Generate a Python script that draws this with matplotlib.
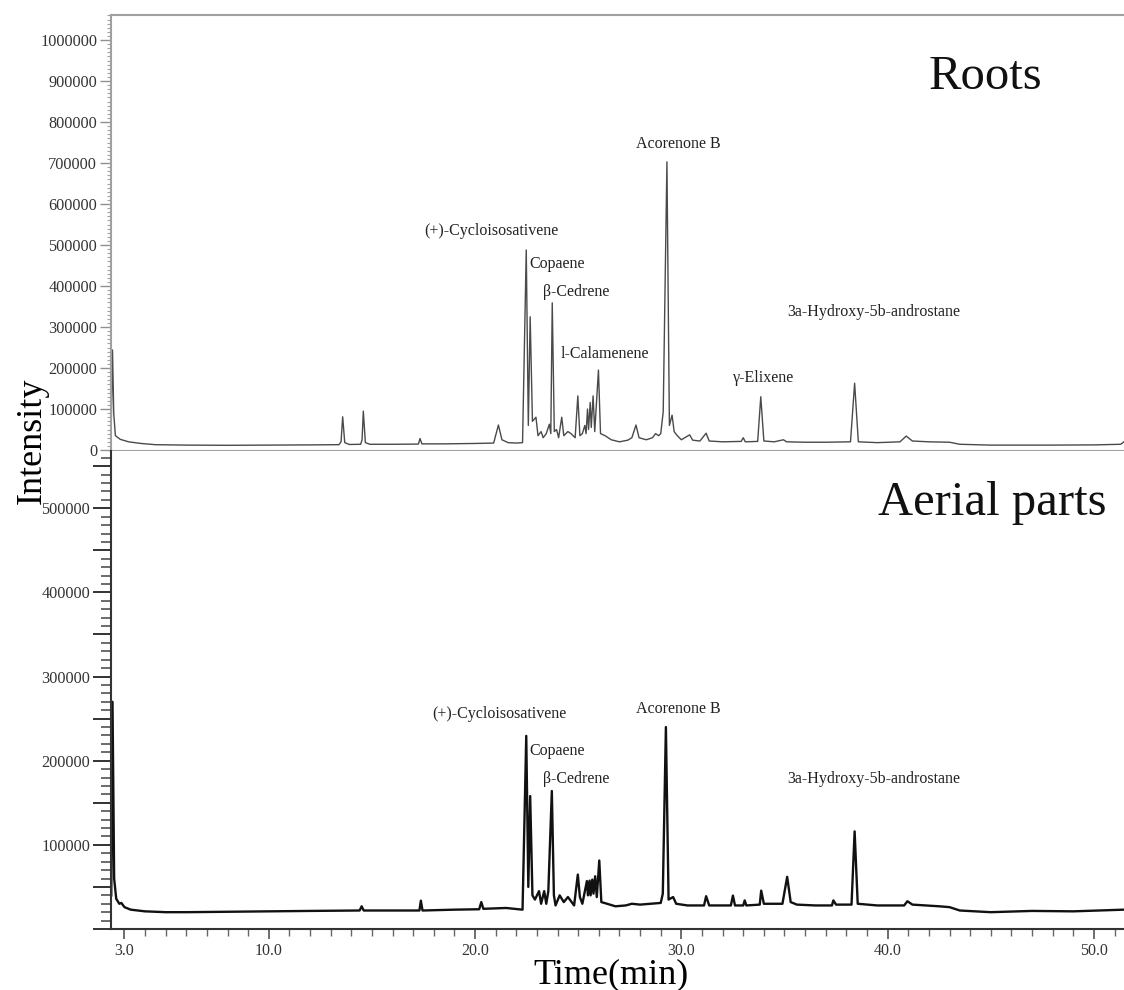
import matplotlib.pyplot as plt
from matplotlib.ticker import FixedLocator, MultipleLocator

plt.rcParams['font.family'] = ['Liberation Serif', 'DejaVu Serif']

# Roots chromatogram, vertices (time in min, intensity)
roots_t = [2.36, 2.42, 2.48, 2.56, 2.8, 3.2, 3.8, 4.5, 6.0, 8.0, 10.0, 12.0,
           13.4, 13.5, 13.58, 13.68, 13.9, 14.45, 14.52, 14.58, 14.68, 14.9,
           16.0, 17.25, 17.33, 17.42, 18.5, 20.0, 20.9, 21.13, 21.3, 21.6,
           22.0, 22.3, 22.48, 22.58, 22.67, 22.78, 22.95, 23.05, 23.2, 23.3,
           23.45, 23.6, 23.67, 23.74, 23.84, 23.95, 24.05, 24.2, 24.3, 24.5,
           24.65, 24.85, 24.98, 25.08, 25.2, 25.32, 25.38, 25.45, 25.5, 25.58,
           25.63, 25.72, 25.8, 25.98, 26.08, 26.3, 26.6, 27.0, 27.4, 27.6,
           27.8, 27.95, 28.3, 28.6, 28.75, 28.9, 29.0, 29.12, 29.3, 29.42,
           29.55, 29.65, 29.8, 30.0, 30.4, 30.55, 30.9, 31.2, 31.35, 32.0,
           32.9, 33.0, 33.1, 33.7, 33.85, 34.0, 34.5, 34.95, 35.1, 36.0,
           37.0, 38.2, 38.4, 38.58, 39.5, 40.6, 40.9, 41.2, 42.0, 43.0, 43.5,
           45.0, 48.0, 50.0, 51.3, 51.46]
roots_i = [65000, 244000, 90000, 35000, 26000, 20000, 16000, 13000, 12000, 11500, 12000, 12500,
           13000, 20000, 81000, 18000, 13500, 14000, 25000, 95000, 18000, 14000,
           14000, 14500, 28000, 15000, 15000, 16000, 17000, 61000, 25000, 18000,
           17000, 18000, 488000, 60000, 325000, 70000, 80000, 35000, 45000, 30000,
           40000, 63000, 40000, 359000, 45000, 50000, 30000, 80000, 35000, 45000,
           40000, 30000, 132000, 35000, 40000, 60000, 40000, 100000, 50000, 116000,
           55000, 132000, 45000, 195000, 40000, 35000, 25000, 20000, 24000, 30000,
           61000, 30000, 25000, 30000, 40000, 35000, 40000, 93000, 703000, 60000,
           85000, 45000, 35000, 25000, 37000, 24000, 22000, 41000, 22000, 20000,
           21000, 30000, 20000, 21000, 130000, 22000, 20000, 25000, 20000, 19000,
           19000, 20000, 163000, 20000, 18000, 20000, 34000, 22000, 20000, 19000, 14000,
           12000, 12000, 12500, 14000, 20000]

# Aerial parts chromatogram
aerial_t = [2.36, 2.42, 2.5, 2.6, 2.75, 2.85, 3.0, 3.3, 4.0, 5.0, 6.0, 8.0, 10.0,
            12.0, 14.4, 14.5, 14.6, 16.0, 17.3, 17.37, 17.45, 19.0, 20.2, 20.3,
            20.4, 21.5, 22.3, 22.48, 22.58, 22.67, 22.78, 22.9, 23.1, 23.2,
            23.35, 23.45, 23.55, 23.72, 23.82, 23.9, 24.1, 24.3, 24.5, 24.8,
            24.98, 25.08, 25.2, 25.42, 25.47, 25.55, 25.6, 25.68, 25.74, 25.82,
            25.9, 26.02, 26.12, 26.4, 26.8, 27.3, 27.6, 28.0, 28.5, 29.0, 29.1,
            29.25, 29.38, 29.6, 29.75, 30.3, 31.1, 31.2, 31.35, 32.4, 32.5,
            32.6, 33.0, 33.07, 33.15, 33.8, 33.87, 34.0, 34.9, 35.13, 35.3,
            35.6, 36.5, 37.3, 37.37, 37.5, 38.25, 38.4, 38.55, 39.5, 40.8,
            40.96, 41.2, 42.5, 43.0, 43.5, 45.0, 47.0, 49.0, 51.46]
aerial_i = [40000, 270000, 60000, 36000, 30000, 31000, 26000, 23000, 21000, 20000, 20000, 20500, 21000,
            21500, 22000, 27000, 22000, 22000, 22000, 33700, 22000, 23000, 23500, 32000,
            24000, 25000, 23000, 229500, 50000, 158000, 40000, 35000, 45000, 30000,
            45000, 30000, 45000, 164000, 40000, 28000, 40000, 32000, 38000, 28000,
            64700, 38000, 30000, 57000, 40000, 57500, 40000, 58700, 42000, 62700,
            38000, 81400, 32000, 30000, 27000, 28000, 30000, 29000, 30000, 31000, 42000,
            240000, 35000, 38000, 30000, 28000, 28000, 39000, 28000, 28000, 39700,
            28000, 28000, 34000, 28000, 29000, 45600, 30000, 30000, 62000, 32000,
            29000, 28000, 28000, 34000, 29000, 29000, 116000, 30000, 28000, 28000,
            33000, 29000, 27000, 26000, 22000, 20000, 21500, 21000, 23000]

roots_names = ["(+)-Cycloisosativene", "Copaene", "β-Cedrene", "l-Calamenene",
               "Acorenone B", "γ-Elixene", "3a-Hydroxy-5b-androstane"]
roots_lx = [20.81, 22.62, 23.29, 24.13, 29.85, 33.98, 39.32]
roots_ly = [535000, 453000, 386000, 234000, 746000, 176000, 337000]
roots_ha = ["center", "left", "left", "left", "center", "center", "center"]

aerial_names = ["(+)-Cycloisosativene", "Copaene", "β-Cedrene",
                "Acorenone B", "3a-Hydroxy-5b-androstane"]
aerial_lx = [21.2, 22.62, 23.29, 29.85, 39.32]
aerial_ly = [256000, 212000, 178700, 262000, 178700]
aerial_ha = ["center", "left", "left", "center", "center"]

x_major = [3.0, 10.0, 20.0, 30.0, 40.0, 50.0]
roots_yticks = list(range(0, 1000001, 100000))
aerial_yticks = list(range(0, 550001, 50000))

fig = plt.figure(figsize=(11.24, 9.90), dpi=100)
ax1 = fig.add_axes([0.0988, 0.5444, 0.9012, 0.4404])
ax2 = fig.add_axes([0.0988, 0.0616, 0.9012, 0.4828])

# top panel (roots)
ax1.plot(roots_t, roots_i, color="#4a4a4a", lw=1.0)
ax1.set_xlim(2.35, 51.46)
ax1.set_ylim(-2500, 1061000)
ax1.set_yticks(roots_yticks)
ax1.set_yticklabels([str(v) for v in roots_yticks])
ax1.yaxis.set_minor_locator(MultipleLocator(10000))
ax1.set_xticks([])
for s in ["top", "bottom", "left"]:
    ax1.spines[s].set_color("#a0a0a0")
    ax1.spines[s].set_linewidth(1.5)
ax1.spines["right"].set_visible(False)
ax1.tick_params(axis="y", which="major", length=8, width=1, color="#909090",
                labelsize=11.7, labelcolor="#333333", pad=2)
ax1.tick_params(axis="y", which="minor", length=3, width=0.8, color="#a0a0a0")
for name, x, y, ha in zip(roots_names, roots_lx, roots_ly, roots_ha):
    ax1.text(x, y, name, ha=ha, va="center", fontsize=11.5, color="#222222")
ax1.text(44.76, 910000, "Roots", ha="center", va="center", fontsize=35, color="#111111")

# bottom panel (aerial parts)
ax2.plot(aerial_t, aerial_i, color="#111111", lw=1.7)
ax2.set_xlim(2.35, 51.46)
ax2.set_ylim(0, 568000)
ax2.set_yticks(aerial_yticks)
ax2.set_yticklabels([str(v) if v % 100000 == 0 and v > 0 else "" for v in aerial_yticks])
ax2.yaxis.set_minor_locator(MultipleLocator(10000))
ax2.xaxis.set_major_locator(FixedLocator(x_major))
ax2.set_xticklabels([f"{v:.1f}" for v in x_major])
ax2.xaxis.set_minor_locator(MultipleLocator(1))
ax2.spines["top"].set_visible(False)
ax2.spines["right"].set_visible(False)
for s in ["bottom", "left"]:
    ax2.spines[s].set_color("#333333")
    ax2.spines[s].set_linewidth(1.5)
ax2.tick_params(axis="y", which="major", length=13, width=1.4, color="#333333",
                labelsize=11.7, labelcolor="#333333", pad=2)
ax2.tick_params(axis="y", which="minor", length=7, width=1.1, color="#444444")
ax2.tick_params(axis="x", which="major", length=7, width=1.2, color="#555555",
                labelsize=11.5, labelcolor="#333333", pad=3)
ax2.tick_params(axis="x", which="minor", length=5, width=1, color="#666666")
for name, x, y, ha in zip(aerial_names, aerial_lx, aerial_ly, aerial_ha):
    ax2.text(x, y, name, ha=ha, va="center", fontsize=11.5, color="#222222")
ax2.text(45.05, 506000, "Aerial parts", ha="center", va="center", fontsize=35, color="#111111")

fig.text(0.0285, 0.5545, "Intensity", rotation=90, ha="center", va="center", fontsize=26)
fig.text(0.5436, 0.0066, "Time(min)", ha="center", va="baseline", fontsize=26)

fig.savefig("out.png", dpi=100)
